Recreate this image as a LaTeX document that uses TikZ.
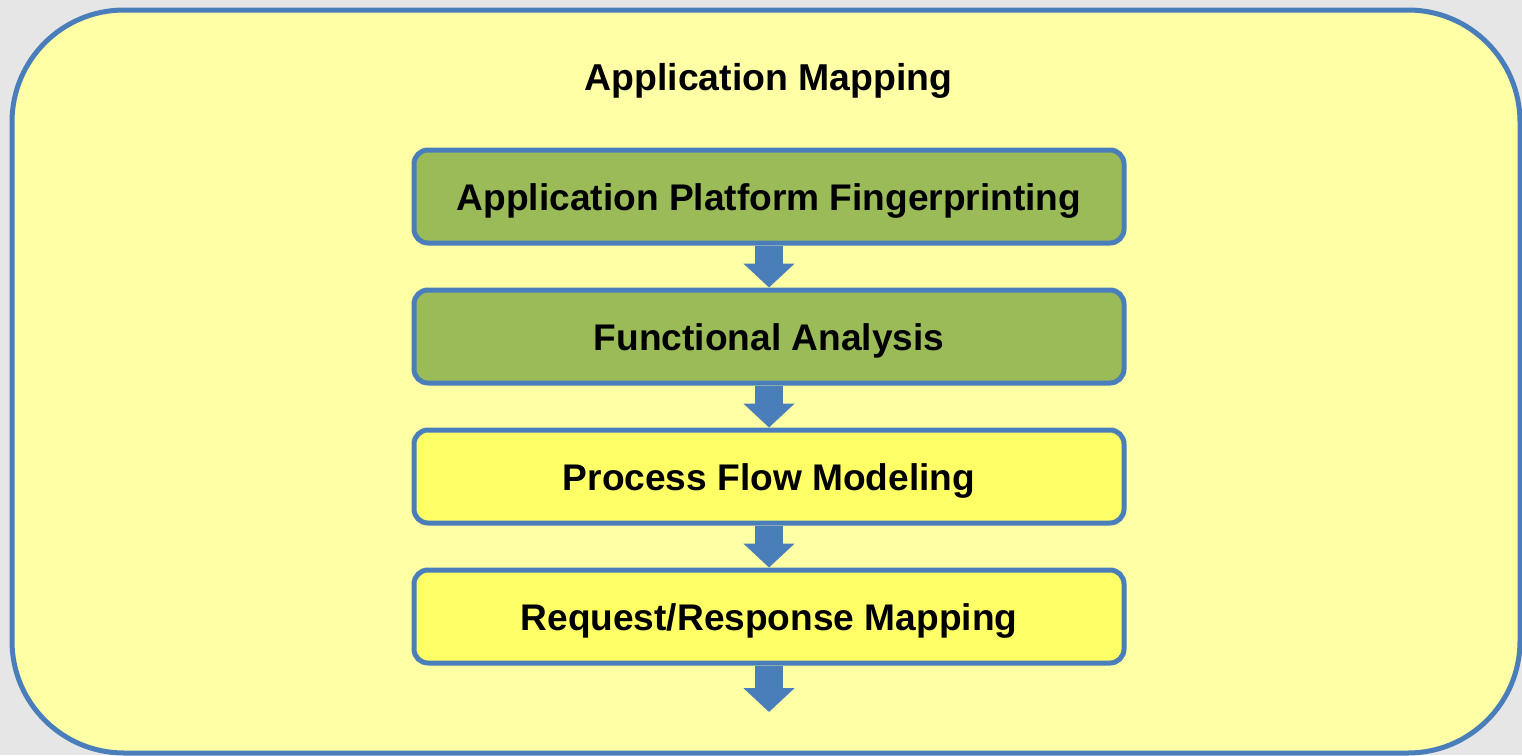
\documentclass[tikz,border=0pt]{standalone}
\usepackage{fontspec}
\setmainfont{Liberation Sans}
\usetikzlibrary{arrows.meta}

\definecolor{pagegray}{RGB}{230,230,230}
\definecolor{edgeblue}{RGB}{74,126,187}
\definecolor{panelfill}{RGB}{255,255,166}
\definecolor{stepgreen}{RGB}{155,187,89}
\definecolor{stepyellow}{RGB}{255,255,102}

\tikzset{
  panel/.style={draw=edgeblue, fill=panelfill, line width=5pt, rounded corners=112pt},
  stepbox/.style={draw=edgeblue, line width=5pt, rounded corners=14pt,
    minimum width=710pt, minimum height=93pt, inner sep=0pt,
    text height=27pt, text depth=0pt,
    font=\fontsize{37.1}{40}\selectfont\bfseries},
  donebox/.style={stepbox, fill=stepgreen},
  todobox/.style={stepbox, fill=stepyellow},
  flow/.style={draw=edgeblue, line width=28pt,
    -{Triangle[width=50pt,length=24pt]}},
  heading/.style={font=\fontsize{37.4}{40}\selectfont\bfseries, inner sep=0pt, anchor=base}
}

\begin{document}
\begin{tikzpicture}[x=1pt, y=-1pt]
  % canvas
  \fill[pagegray] (0,0) rectangle (1522,755);
  \useasboundingbox (0,0) rectangle (1522,755);

  % outer panel
  \draw[panel] (12,10) rectangle (1520,753);
  \node[heading] (title) at (768.5,90) {Application Mapping};

  % process steps
  \node[donebox] (b1) at (769,196.5) {Application Platform Fingerprinting};
  \node[donebox] (b2) at (769,336.5) {Functional Analysis};
  \node[todobox] (b3) at (769,476.5) {Process Flow Modeling};
  \node[todobox] (b4) at (769,616.5) {Request/Response Mapping};
  \coordinate (out) at (769,712);

  % block arrows between steps
  \draw[flow] (b1.south) -- (b2.north);
  \draw[flow] (b2.south) -- (b3.north);
  \draw[flow] (b3.south) -- (b4.north);
  \draw[flow] (b4.south) -- (out);
\end{tikzpicture}
\end{document}
